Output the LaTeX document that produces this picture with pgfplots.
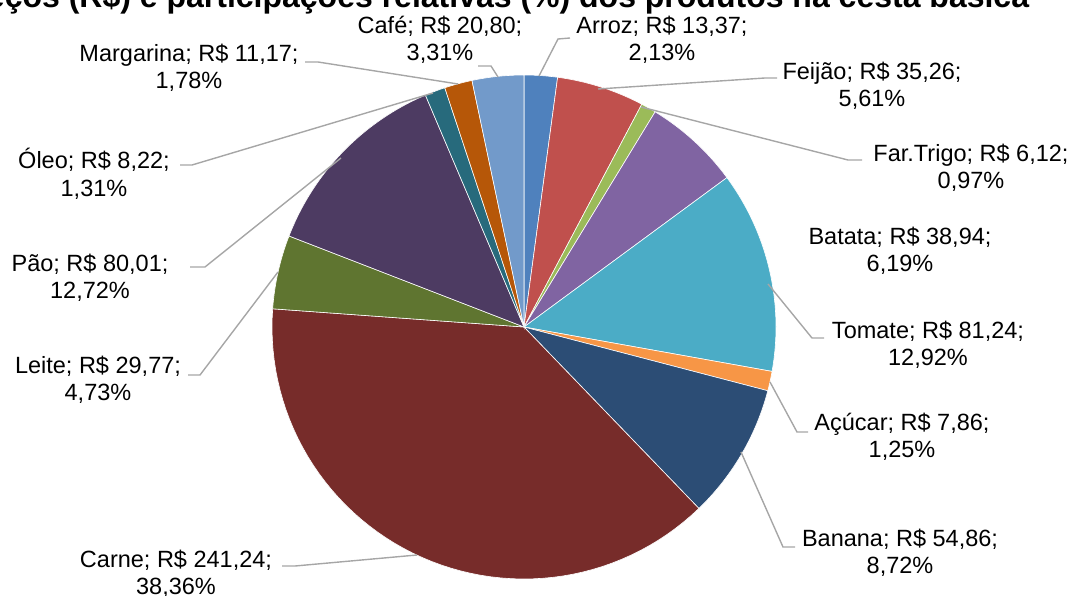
\documentclass[border=0pt]{standalone}
\usepackage{pgfplots}
\pgfplotsset{compat=1.18}
\usepackage{pgfplotstable}
\usepackage{fontspec}
\setmainfont{Liberation Sans}

\definecolor{cArroz}{HTML}{4F81BD}
\definecolor{cFeijao}{HTML}{C0504D}
\definecolor{cTrigo}{HTML}{9BBB59}
\definecolor{cBatata}{HTML}{8064A2}
\definecolor{cTomate}{HTML}{4BACC6}
\definecolor{cAcucar}{HTML}{F79646}
\definecolor{cBanana}{HTML}{2C4D75}
\definecolor{cCarne}{HTML}{772C2A}
\definecolor{cLeite}{HTML}{5F7530}
\definecolor{cPao}{HTML}{4D3B62}
\definecolor{cOleo}{HTML}{276A7C}
\definecolor{cMargarina}{HTML}{B65708}
\definecolor{cCafe}{HTML}{729ACA}
\definecolor{leader}{HTML}{A6A6A6}

% produto, preco (R$), participacao (%), cor
\pgfplotstableread[col sep=comma]{
name,price,pct,color
Arroz,13.37,2.13,cArroz
Feijao,35.26,5.61,cFeijao
FarTrigo,6.12,0.97,cTrigo
Batata,38.94,6.19,cBatata
Tomate,81.24,12.92,cTomate
Acucar,7.86,1.25,cAcucar
Banana,54.86,8.72,cBanana
Carne,241.24,38.36,cCarne
Leite,29.77,4.73,cLeite
Pao,80.01,12.72,cPao
Oleo,8.22,1.31,cOleo
Margarina,11.17,1.78,cMargarina
Cafe,20.80,3.31,cCafe
}\piedata

\newcommand\lblfont{\fontsize{23.5}{27.5}\selectfont}
\newcommand\titlefont{\fontsize{32}{38}\selectfont\bfseries}
\tikzset{
  lbl/.style={font=\lblfont, align=center, inner sep=0pt},
  ld/.style={draw=leader, line width=1.4pt},
}

\begin{document}
\begin{tikzpicture}
\begin{axis}[
  hide axis,
  x=1pt, y=1pt,
  xmin=0, xmax=1076, ymin=0, ymax=596,
  y dir=reverse,
  clip=false,
]
\pgfplotstablegetrowsof{\piedata}
\pgfmathtruncatemacro\N{\pgfplotsretval-1}
\def\cum{0}
\pgfplotsforeachungrouped \i in {0,...,\N}{
  \pgfplotstablegetelem{\i}{pct}\of\piedata \let\p\pgfplotsretval
  \pgfplotstablegetelem{\i}{color}\of\piedata \let\c\pgfplotsretval
  \pgfmathsetmacro\aS{90-3.6*\cum}
  \pgfmathsetmacro\aE{90-3.6*(\cum+\p)}
  \pgfmathsetmacro\cum{\cum+\p}
  \edef\temp{\noexpand\addplot[fill=\c, draw=white, line width=0.6pt, domain=\aE:\aS, samples=60, variable=\noexpand\t]
    ({524+252*cos(\noexpand\t)},{327-252*sin(\noexpand\t)}) -- (axis cs:524,327) -- cycle;}
  \temp
}

% title (partly outside the picture)
\node[anchor=base west, font=\titlefont, inner sep=0pt] at (axis cs:-47,8)
  {Preços (R\$) e participações relativas (\%) dos produtos na cesta básica};

% leader lines
\draw[ld] (axis cs:478,66) -- (axis cs:491,66) -- (axis cs:498,77);
\draw[ld] (axis cs:570,38) -- (axis cs:558,39) -- (axis cs:539,76);
\draw[ld] (axis cs:598,89) -- (axis cs:765,78) -- (axis cs:777,78);
\draw[ld] (axis cs:641,107) -- (axis cs:848,160) -- (axis cs:862,160);
\draw[ld] (axis cs:768,284) -- (axis cs:812,338) -- (axis cs:824,338);
\draw[ld] (axis cs:770,382) -- (axis cs:797,432) -- (axis cs:808,432);
\draw[ld] (axis cs:741,452) -- (axis cs:783,547) -- (axis cs:795,547);
\draw[ld] (axis cs:417,555) -- (axis cs:295,566) -- (axis cs:282,566);
\draw[ld] (axis cs:278,272) -- (axis cs:200,375) -- (axis cs:188,375);
\draw[ld] (axis cs:341,158) -- (axis cs:205,267) -- (axis cs:190,267);
\draw[ld] (axis cs:433,93) -- (axis cs:192,165) -- (axis cs:180,165);
\draw[ld] (axis cs:458,84) -- (axis cs:318,62) -- (axis cs:305,62);

% labels
\node[lbl] at (axis cs:440,40) {Café; R\$ 20,80;\\3,31\%};
\node[lbl] at (axis cs:662,40) {Arroz; R\$ 13,37;\\2,13\%};
\node[lbl] at (axis cs:872,86) {Feijão; R\$ 35,26;\\5,61\%};
\node[lbl] at (axis cs:971,168) {Far.Trigo; R\$ 6,12;\\0,97\%};
\node[lbl] at (axis cs:900,251) {Batata; R\$ 38,94;\\6,19\%};
\node[lbl] at (axis cs:928,345) {Tomate; R\$ 81,24;\\12,92\%};
\node[lbl] at (axis cs:902,437) {Açúcar; R\$ 7,86;\\1,25\%};
\node[lbl] at (axis cs:900,553) {Banana; R\$ 54,86;\\8,72\%};
\node[lbl] at (axis cs:176,574) {Carne; R\$ 241,24;\\38,36\%};
\node[lbl] at (axis cs:98,380) {Leite; R\$ 29,77;\\4,73\%};
\node[lbl] at (axis cs:90,278) {Pão; R\$ 80,01;\\12,72\%};
\node[lbl] at (axis cs:94,174) {Óleo; R\$ 8,22;\\1,31\%};
\node[lbl] at (axis cs:189,68) {Margarina; R\$ 11,17;\\1,78\%};
\end{axis}
\pgfresetboundingbox
\path[use as bounding box] (0,0) rectangle (1076pt,596pt);
\end{tikzpicture}
\end{document}
